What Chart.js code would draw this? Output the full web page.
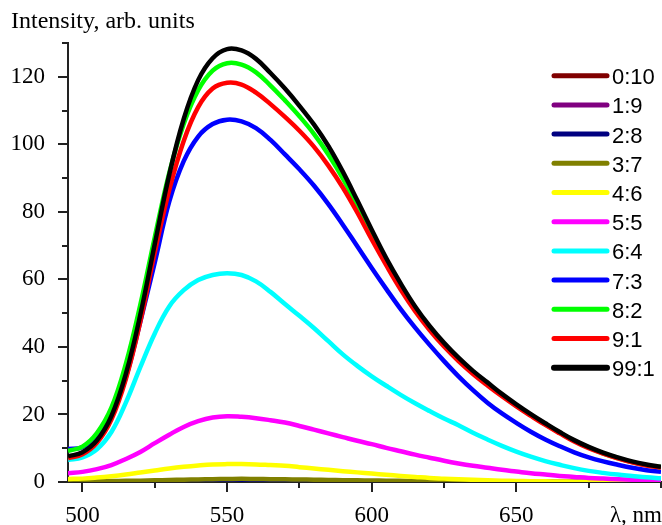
<!DOCTYPE html>
<html>
<head>
<meta charset="utf-8">
<script src="https://cdn.jsdelivr.net/npm/chart.js@4"></script>
<style>
  html, body { margin: 0; padding: 0; background: #ffffff; }
  #wrap { width: 662px; height: 525px; }
</style>
</head>
<body>
<div id="wrap"><canvas id="c" width="662" height="525"></canvas></div>
<script>
// ---------- data ----------
const wavelengths = [495,500,505,510,515,520,525,530,535,540,545,550,555,560,565,570,575,580,585,590,595,600,605,610,615,620,625,630,635,640,645,650,655,660,665,670,675,680,685,690,695,700];

const seriesLabels = ['0:10','1:9','2:8','3:7','4:6','5:5','6:4','7:3','8:2','9:1','99:1'];
const seriesColors = ['#800000','#800080','#000080','#808000','#FFFF00','#FF00FF','#00FFFF','#0000FF','#00FF00','#FF0000','#000000'];

const s0_10 = [0,0,0,0,0,0,0,0,0,0,0,0,0,0,0,0,0,0,0,0,0,0,0,0,0,0,0,0,0,0,0,0,0,0,0,0,0,0,0,0,0,0];
const s1_9  = [0,0,0,0,0,0,0,0,0,0,0,0,0,0,0,0,0,0,0,0,0,0,0,0,0,0,0,0,0,0,0,0,0,0,0,0,0,0,0,0,0,0];
const s2_8  = [0,0,0,0,0,0,0.05,0.1,0.1,0.1,0.1,0.1,0.1,0.1,0.1,0.1,0.08,0.05,0,0,0,0,0,0,0,0,0,0,0,0,0,0,0,0,0,0,0,0,0,0,0,0];
const s3_7  = [0.2,0.2,0.25,0.3,0.35,0.4,0.5,0.6,0.7,0.75,0.85,0.9,0.95,0.9,0.85,0.8,0.75,0.7,0.62,0.55,0.5,0.45,0.4,0.35,0.32,0.3,0.25,0.2,0.17,0.15,0.12,0.1,0.08,0.05,0.02,0,0,0,0,0,0,0];
const s4_6  = [0.9,1.0,1.3,1.7,2.2,2.8,3.4,4.0,4.5,4.9,5.2,5.3,5.3,5.2,5.0,4.8,4.4,4.0,3.6,3.2,2.85,2.5,2.15,1.8,1.5,1.2,1.0,0.8,0.65,0.5,0.4,0.3,0.25,0.2,0.15,0.1,0.08,0.05,0.03,0,0,0];
const s5_5  = [2.6,3.0,3.8,5.0,6.8,8.9,11.5,14.0,16.3,18.0,19.1,19.5,19.3,18.9,18.3,17.6,16.6,15.5,14.4,13.3,12.2,11.2,10.1,9.1,8.1,7.2,6.3,5.5,4.8,4.2,3.6,3.1,2.6,2.2,1.8,1.5,1.2,1.0,0.85,0.7,0.6,0.5];
const s6_4  = [6.5,7.3,9.7,14.8,23.5,34.0,44.0,52.0,56.8,59.8,61.3,61.8,61.3,59.4,56.3,52.7,49.2,45.6,41.7,37.8,34.4,31.3,28.5,25.8,23.3,21.0,18.8,16.8,14.6,12.6,10.7,9.0,7.5,6.2,5.1,4.1,3.3,2.7,2.2,1.8,1.4,1.1];
const s7_3  = [9.8,10.3,13.2,19.5,31.0,47.5,65.0,83.0,95.0,102.3,106.0,107.3,106.8,104.8,101.3,97.0,92.6,87.8,82.3,76.2,69.8,63.4,57.2,51.2,45.7,40.6,35.8,31.3,27.2,23.5,20.3,17.5,14.9,12.6,10.6,8.8,7.3,6.1,5.1,4.2,3.5,3.0];
const s8_2  = [9.2,10.5,14.5,22.0,35.0,52.5,72.5,91.5,106.0,116.0,121.8,124.0,123.6,121.3,117.4,113.0,108.3,103.1,97.0,89.9,81.7,73.2,65.2,57.9,51.3,45.6,40.7,36.3,32.4,29.0,25.7,22.6,19.8,17.1,14.6,12.2,10.2,8.5,7.1,5.9,5.0,4.4];
const s9_1  = [7.0,8.2,11.6,18.5,30.5,47.5,68.0,86.5,101.0,111.0,116.5,118.2,117.7,115.3,111.9,108.1,104.0,99.3,93.7,87.2,79.8,71.8,64.2,57.0,50.6,45.0,40.1,35.8,32.0,28.6,25.4,22.4,19.6,16.9,14.4,12.0,10.0,8.4,7.0,5.8,4.9,4.3];
const s99_1 = [7.6,8.8,12.3,19.5,32.0,49.5,70.5,91.0,107.5,119.0,125.5,128.2,127.8,125.3,121.1,116.5,111.4,105.9,99.5,91.9,83.4,74.7,66.3,58.8,52.0,46.2,41.2,36.8,32.9,29.5,26.1,23.0,20.1,17.4,14.8,12.4,10.4,8.7,7.3,6.1,5.2,4.5];

const allSeries = [s0_10,s1_9,s2_8,s3_7,s4_6,s5_5,s6_4,s7_3,s8_2,s9_1,s99_1];

const yMajorTicks = [0,20,40,60,80,100,120];
const yMinorTicks = [10,30,50,70,90,110,130];
const xMajorTicks = [500,550,600,650];
const xMinorTicks = [525,575,625,675,700];

const yTitle = 'Intensity, arb. units';
const xTitle = 'λ, nm';

// ---------- chart ----------
const AXIS = '#222222';
const SERIF = "'Liberation Serif', 'Times New Roman', serif";
const SANS = "'Liberation Sans', Arial, sans-serif";

const datasets = allSeries.map((vals, i) => ({
  label: seriesLabels[i],
  data: vals.map((v, k) => ({ x: wavelengths[k], y: v })),
  borderColor: seriesColors[i],
  backgroundColor: seriesColors[i],
  borderWidth: 4.5,
  pointRadius: 0,
  fill: false,
  tension: 0.4,
  order: allSeries.length - i
}));

const decor = {
  id: 'decor',
  afterDraw(chart) {
    const { ctx, chartArea, scales: { x, y } } = chart;
    ctx.save();
    ctx.strokeStyle = AXIS;
    ctx.lineWidth = 2;
    ctx.beginPath();
    xMajorTicks.forEach(v => { const p = Math.round(x.getPixelForValue(v)); ctx.moveTo(p, chartArea.bottom); ctx.lineTo(p, chartArea.bottom + 10); });
    xMinorTicks.forEach(v => { const p = Math.round(x.getPixelForValue(v)); ctx.moveTo(p, chartArea.bottom); ctx.lineTo(p, chartArea.bottom + 6); });
    yMajorTicks.forEach(v => { const p = Math.round(y.getPixelForValue(v)); ctx.moveTo(chartArea.left, p); ctx.lineTo(chartArea.left - 10, p); });
    yMinorTicks.forEach(v => { const p = Math.round(y.getPixelForValue(v)); ctx.moveTo(chartArea.left, p); ctx.lineTo(chartArea.left - 6, p); });
    ctx.stroke();

    // axis titles
    ctx.fillStyle = '#000';
    ctx.font = '24px ' + SERIF;
    ctx.textAlign = 'left';
    ctx.textBaseline = 'alphabetic';
    ctx.fillText(yTitle, 11, 28);
    ctx.font = '23px ' + SERIF;
    ctx.textAlign = 'right';
    ctx.fillText(xTitle, 662, 522);

    // legend
    ctx.font = '22px ' + SANS;
    ctx.textAlign = 'left';
    ctx.textBaseline = 'alphabetic';
    ctx.lineCap = 'round';
    chart.data.datasets.forEach((ds, i) => {
      const yy = 75.7 + 29.2 * i;
      ctx.strokeStyle = ds.borderColor;
      ctx.lineWidth = i === 10 ? 6 : 5;
      ctx.beginPath();
      ctx.moveTo(554, yy);
      ctx.lineTo(607, yy);
      ctx.stroke();
      ctx.fillStyle = '#000';
      ctx.fillText(ds.label, 612, yy + 8.5);
    });
    ctx.restore();
  }
};

new Chart(document.getElementById('c'), {
  type: 'line',
  data: { datasets },
  options: {
    responsive: false,
    animation: false,
    devicePixelRatio: 1,
    layout: { padding: { top: 43, right: 1, left: 0, bottom: 0 } },
    plugins: { legend: { display: false }, tooltip: { enabled: false }, title: { display: false } },
    scales: {
      x: {
        type: 'linear',
        min: 495, max: 700,
        grid: { display: false },
        border: { display: true, color: AXIS, width: 2 },
        afterBuildTicks: (scale) => { scale.ticks = xMajorTicks.map(v => ({ value: v })); },
        ticks: {
          autoSkip: false,
          maxRotation: 0,
          padding: 12,
          color: '#000',
          font: { family: SERIF, size: 23 },
          callback: (v) => String(v)
        },
        afterFit: (scale) => { scale.height = 43; }
      },
      y: {
        type: 'linear',
        min: 0, max: 130,
        grid: { display: false },
        border: { display: true, color: AXIS, width: 2 },
        afterBuildTicks: (scale) => { scale.ticks = yMajorTicks.map(v => ({ value: v })); },
        ticks: {
          autoSkip: false,
          padding: 15,
          color: '#000',
          font: { family: SERIF, size: 23 },
          callback: (v) => String(v)
        },
        afterFit: (scale) => { scale.width = 68; }
      }
    }
  },
  plugins: [decor]
});
</script>
</body>
</html>
